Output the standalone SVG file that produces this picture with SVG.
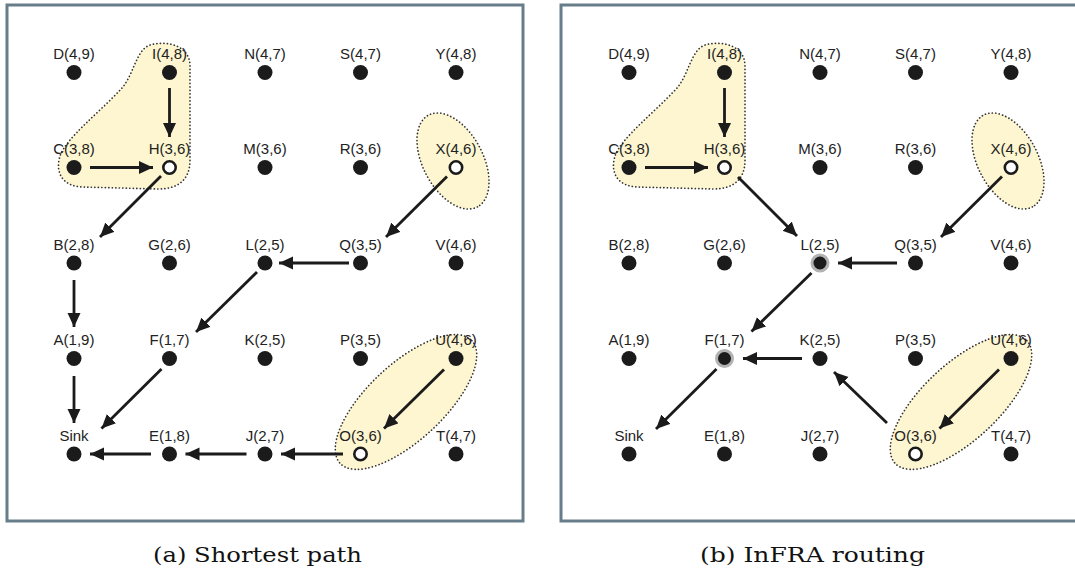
<svg xmlns="http://www.w3.org/2000/svg" width="1075" height="573" viewBox="0 0 1075 573">
<style>
.panel{fill:#fff;stroke:#687d8a;stroke-width:3}
.blob{fill:#fdf6d0;stroke:#333;stroke-width:1.7;stroke-dasharray:0.1 3.4;stroke-linecap:round}
.dot{fill:#1b1b1b}
.open{fill:#fff;stroke:#1b1b1b;stroke-width:2.6}
.ring{fill:#1b1b1b;stroke:#b3b3b3;stroke-width:3}
.lbl{font-family:"Liberation Sans",Arial,sans-serif;font-size:15px;fill:#222;text-anchor:middle}
.cap{font-family:"DejaVu Serif","Liberation Serif",serif;font-size:21px;fill:#111;text-anchor:middle}
.arr{stroke:#1b1b1b;stroke-width:2.8;fill:none;marker-end:url(#ah)}
</style>
<defs>
<marker id="ah" markerUnits="userSpaceOnUse" markerWidth="15" markerHeight="14" refX="14" refY="6.5" orient="auto" viewBox="0 0 15 14">
<path d="M0,0 L14,6.5 L0,13 Z" fill="#1b1b1b"/>
</marker>
<path id="blobA" d="M150,45 C168,40 190,46 190,66 L190,160 C190,180 178,189 158,189 L82,187 C62,186 55,172 60,156 C66,138 100,112 122,88 C134,74 136,50 150,45 Z"/>
</defs>
<rect width="1075" height="573" fill="#fff"/>
<rect class="panel" x="7" y="5" width="516" height="516"/>
<rect class="panel" x="561" y="5" width="520" height="516"/>

<g id="highlights">
<use href="#blobA" class="blob"/>
<ellipse class="blob" cx="453" cy="161" rx="52" ry="30" transform="rotate(62 453 161)"/>
<ellipse class="blob" cx="406" cy="402" rx="90" ry="38" transform="rotate(-43 406 402)"/>
<use href="#blobA" class="blob" transform="translate(555 0)"/>
<ellipse class="blob" cx="1008" cy="161" rx="52" ry="30" transform="rotate(62 1008 161)"/>
<ellipse class="blob" cx="961" cy="402" rx="90" ry="38" transform="rotate(-43 961 402)"/>
</g>

<g id="connectors">
<line class="arr" x1="169.5" y1="88" x2="169.5" y2="137"/>
<line class="arr" x1="90" y1="167.5" x2="153" y2="167.5"/>
<line class="arr" x1="161" y1="176" x2="100" y2="237"/>
<line class="arr" x1="447" y1="176.5" x2="386" y2="237"/>
<line class="arr" x1="349" y1="263" x2="279" y2="263"/>
<line class="arr" x1="257" y1="272" x2="196" y2="332"/>
<line class="arr" x1="74" y1="280" x2="74" y2="327"/>
<line class="arr" x1="74" y1="376" x2="74" y2="423"/>
<line class="arr" x1="161.5" y1="369" x2="101.5" y2="428.5"/>
<line class="arr" x1="151" y1="454" x2="90" y2="454"/>
<line class="arr" x1="246.5" y1="454" x2="185.5" y2="454"/>
<line class="arr" x1="343" y1="454" x2="281" y2="454"/>
<line class="arr" x1="444" y1="369.5" x2="384" y2="428.5"/>

<line class="arr" x1="724.5" y1="88" x2="724.5" y2="137"/>
<line class="arr" x1="645" y1="167.5" x2="708" y2="167.5"/>
<line class="arr" x1="738" y1="177" x2="797" y2="236"/>
<line class="arr" x1="1002" y1="176.5" x2="941" y2="237"/>
<line class="arr" x1="897" y1="263" x2="838" y2="263"/>
<line class="arr" x1="811.5" y1="273" x2="751.5" y2="331.5"/>
<line class="arr" x1="802" y1="358.5" x2="743" y2="358.5"/>
<line class="arr" x1="887" y1="423" x2="834" y2="372"/>
<line class="arr" x1="716.5" y1="369" x2="656" y2="429"/>
<line class="arr" x1="999" y1="369.5" x2="939.5" y2="428.5"/>
</g>

<g id="panel-a">
<g id="a-D"><text class="lbl" x="74" y="59">D(4,9)</text><circle class="dot" cx="74" cy="72.5" r="7.5"/></g>
<g id="a-I"><text class="lbl" x="169.5" y="59">I(4,8)</text><circle class="dot" cx="169.5" cy="72.5" r="7.5"/></g>
<g id="a-N"><text class="lbl" x="265" y="59">N(4,7)</text><circle class="dot" cx="265" cy="72.5" r="7.5"/></g>
<g id="a-S"><text class="lbl" x="360.5" y="59">S(4,7)</text><circle class="dot" cx="360.5" cy="72.5" r="7.5"/></g>
<g id="a-Y"><text class="lbl" x="456" y="59">Y(4,8)</text><circle class="dot" cx="456" cy="72.5" r="7.5"/></g>

<g id="a-C"><text class="lbl" x="74" y="154">C(3,8)</text><circle class="dot" cx="74" cy="167.5" r="7.5"/></g>
<g id="a-H"><text class="lbl" x="169.5" y="154">H(3,6)</text><circle class="open" cx="169.5" cy="167.5" r="6.2"/></g>
<g id="a-M"><text class="lbl" x="265" y="154">M(3,6)</text><circle class="dot" cx="265" cy="167.5" r="7.5"/></g>
<g id="a-R"><text class="lbl" x="360.5" y="154">R(3,6)</text><circle class="dot" cx="360.5" cy="167.5" r="7.5"/></g>
<g id="a-X"><text class="lbl" x="456" y="154">X(4,6)</text><circle class="open" cx="456" cy="167.5" r="6.2"/></g>

<g id="a-B"><text class="lbl" x="74" y="249.5">B(2,8)</text><circle class="dot" cx="74" cy="263" r="7.5"/></g>
<g id="a-G"><text class="lbl" x="169.5" y="249.5">G(2,6)</text><circle class="dot" cx="169.5" cy="263" r="7.5"/></g>
<g id="a-L"><text class="lbl" x="265" y="249.5">L(2,5)</text><circle class="dot" cx="265" cy="263" r="7.5"/></g>
<g id="a-Q"><text class="lbl" x="360.5" y="249.5">Q(3,5)</text><circle class="dot" cx="360.5" cy="263" r="7.5"/></g>
<g id="a-V"><text class="lbl" x="456" y="249.5">V(4,6)</text><circle class="dot" cx="456" cy="263" r="7.5"/></g>

<g id="a-A"><text class="lbl" x="74" y="345">A(1,9)</text><circle class="dot" cx="74" cy="358.5" r="7.5"/></g>
<g id="a-F"><text class="lbl" x="169.5" y="345">F(1,7)</text><circle class="dot" cx="169.5" cy="358.5" r="7.5"/></g>
<g id="a-K"><text class="lbl" x="265" y="345">K(2,5)</text><circle class="dot" cx="265" cy="358.5" r="7.5"/></g>
<g id="a-P"><text class="lbl" x="360.5" y="345">P(3,5)</text><circle class="dot" cx="360.5" cy="358.5" r="7.5"/></g>
<g id="a-U"><text class="lbl" x="456" y="345">U(4,6)</text><circle class="dot" cx="456" cy="358.5" r="7.5"/></g>

<g id="a-Sink"><text class="lbl" x="74" y="440.5">Sink</text><circle class="dot" cx="74" cy="454" r="7.5"/></g>
<g id="a-E"><text class="lbl" x="169.5" y="440.5">E(1,8)</text><circle class="dot" cx="169.5" cy="454" r="7.5"/></g>
<g id="a-J"><text class="lbl" x="265" y="440.5">J(2,7)</text><circle class="dot" cx="265" cy="454" r="7.5"/></g>
<g id="a-O"><text class="lbl" x="360.5" y="440.5">O(3,6)</text><circle class="open" cx="360.5" cy="454" r="6.2"/></g>
<g id="a-T"><text class="lbl" x="456" y="440.5">T(4,7)</text><circle class="dot" cx="456" cy="454" r="7.5"/></g>
</g>

<g id="panel-b">
<g id="b-D"><text class="lbl" x="629" y="59">D(4,9)</text><circle class="dot" cx="629" cy="72.5" r="7.5"/></g>
<g id="b-I"><text class="lbl" x="724.5" y="59">I(4,8)</text><circle class="dot" cx="724.5" cy="72.5" r="7.5"/></g>
<g id="b-N"><text class="lbl" x="820" y="59">N(4,7)</text><circle class="dot" cx="820" cy="72.5" r="7.5"/></g>
<g id="b-S"><text class="lbl" x="915.5" y="59">S(4,7)</text><circle class="dot" cx="915.5" cy="72.5" r="7.5"/></g>
<g id="b-Y"><text class="lbl" x="1011" y="59">Y(4,8)</text><circle class="dot" cx="1011" cy="72.5" r="7.5"/></g>

<g id="b-C"><text class="lbl" x="629" y="154">C(3,8)</text><circle class="dot" cx="629" cy="167.5" r="7.5"/></g>
<g id="b-H"><text class="lbl" x="724.5" y="154">H(3,6)</text><circle class="open" cx="724.5" cy="167.5" r="6.2"/></g>
<g id="b-M"><text class="lbl" x="820" y="154">M(3,6)</text><circle class="dot" cx="820" cy="167.5" r="7.5"/></g>
<g id="b-R"><text class="lbl" x="915.5" y="154">R(3,6)</text><circle class="dot" cx="915.5" cy="167.5" r="7.5"/></g>
<g id="b-X"><text class="lbl" x="1011" y="154">X(4,6)</text><circle class="open" cx="1011" cy="167.5" r="6.2"/></g>

<g id="b-B"><text class="lbl" x="629" y="249.5">B(2,8)</text><circle class="dot" cx="629" cy="263" r="7.5"/></g>
<g id="b-G"><text class="lbl" x="724.5" y="249.5">G(2,6)</text><circle class="dot" cx="724.5" cy="263" r="7.5"/></g>
<g id="b-L"><text class="lbl" x="820" y="249.5">L(2,5)</text><circle class="ring" cx="820" cy="263" r="8"/></g>
<g id="b-Q"><text class="lbl" x="915.5" y="249.5">Q(3,5)</text><circle class="dot" cx="915.5" cy="263" r="7.5"/></g>
<g id="b-V"><text class="lbl" x="1011" y="249.5">V(4,6)</text><circle class="dot" cx="1011" cy="263" r="7.5"/></g>

<g id="b-A"><text class="lbl" x="629" y="345">A(1,9)</text><circle class="dot" cx="629" cy="358.5" r="7.5"/></g>
<g id="b-F"><text class="lbl" x="724.5" y="345">F(1,7)</text><circle class="ring" cx="724.5" cy="358.5" r="8"/></g>
<g id="b-K"><text class="lbl" x="820" y="345">K(2,5)</text><circle class="dot" cx="820" cy="358.5" r="7.5"/></g>
<g id="b-P"><text class="lbl" x="915.5" y="345">P(3,5)</text><circle class="dot" cx="915.5" cy="358.5" r="7.5"/></g>
<g id="b-U"><text class="lbl" x="1011" y="345">U(4,6)</text><circle class="dot" cx="1011" cy="358.5" r="7.5"/></g>

<g id="b-Sink"><text class="lbl" x="629" y="440.5">Sink</text><circle class="dot" cx="629" cy="454" r="7.5"/></g>
<g id="b-E"><text class="lbl" x="724.5" y="440.5">E(1,8)</text><circle class="dot" cx="724.5" cy="454" r="7.5"/></g>
<g id="b-J"><text class="lbl" x="820" y="440.5">J(2,7)</text><circle class="dot" cx="820" cy="454" r="7.5"/></g>
<g id="b-O"><text class="lbl" x="915.5" y="440.5">O(3,6)</text><circle class="open" cx="915.5" cy="454" r="6.2"/></g>
<g id="b-T"><text class="lbl" x="1011" y="440.5">T(4,7)</text><circle class="dot" cx="1011" cy="454" r="7.5"/></g>
</g>

<g id="captions">
<text class="cap" x="257.5" y="562" textLength="209" lengthAdjust="spacingAndGlyphs">(a) Shortest path</text>
<text class="cap" x="812.5" y="562" textLength="225" lengthAdjust="spacingAndGlyphs">(b) InFRA routing</text>
</g>
</svg>
